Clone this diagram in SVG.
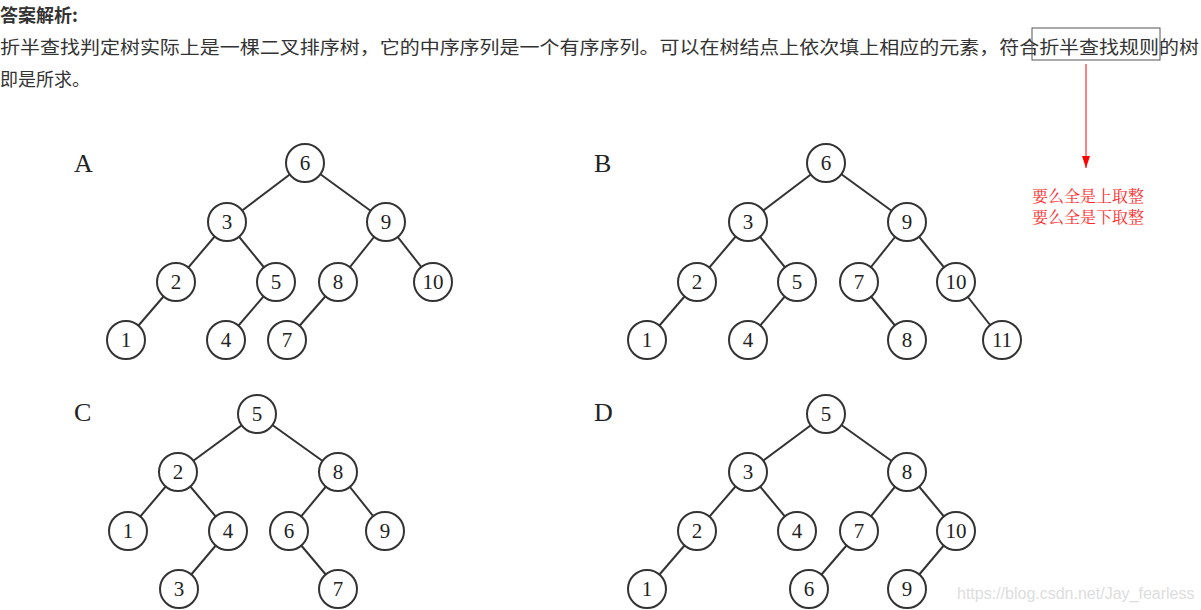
<svg xmlns="http://www.w3.org/2000/svg" width="1201" height="610" viewBox="0 0 1201 610">
<style>
.t{font-family:"Noto Sans CJK SC",sans-serif;fill:#333;font-size:18px}
.n circle{fill:#fff;stroke:#333;stroke-width:2}
.n text{font-family:"Liberation Serif",serif;font-size:21px;fill:#222;text-anchor:middle}
.lb{font-family:"Liberation Serif",serif;font-size:26px;fill:#222}
.e line{stroke:#333;stroke-width:2}
.r{font-family:"Noto Serif CJK SC","Noto Sans CJK SC",serif;font-size:16px;fill:#ff2a2a}
</style>
<defs><marker id="ad" markerWidth="8" markerHeight="12" refX="4" refY="12" markerUnits="userSpaceOnUse"><path d="M0,0 L8,0 L4,12 z" fill="#f00"/></marker></defs>
<rect width="1201" height="610" fill="#fff"/>
<text class="t" x="0" y="22" font-weight="bold">答案解析:</text>
<text class="t" x="0" y="54" textLength="1199" lengthAdjust="spacingAndGlyphs">折半查找判定树实际上是一棵二叉排序树，它的中序序列是一个有序序列。可以在树结点上依次填上相应的元素，符合折半查找规则的树</text>
<text class="t" x="0" y="86">即是所求。</text>
<rect x="1032" y="28" width="128" height="32" fill="none" stroke="#555" stroke-width="1"/>
<line x1="1086" y1="64" x2="1086" y2="168" stroke="#f00" stroke-width="1" marker-end="url(#ad)"/>
<text class="r" x="1032" y="202">要么全是上取整</text>
<text class="r" x="1032" y="223">要么全是下取整</text>
<text class="lb" x="74" y="172">A</text><text class="lb" x="594" y="172">B</text>
<text class="lb" x="74" y="421">C</text><text class="lb" x="594" y="421">D</text>
<g id="edges" class="e">
<line x1="305" y1="163" x2="227" y2="222"/><line x1="305" y1="163" x2="386" y2="222"/>
<line x1="227" y1="222" x2="176" y2="282"/><line x1="227" y1="222" x2="276" y2="282"/>
<line x1="386" y1="222" x2="338" y2="282"/><line x1="386" y1="222" x2="433" y2="282"/>
<line x1="176" y1="282" x2="126" y2="340"/><line x1="276" y1="282" x2="226" y2="340"/><line x1="338" y1="282" x2="287" y2="340"/>
<line x1="826" y1="163" x2="748" y2="222"/><line x1="826" y1="163" x2="907" y2="222"/>
<line x1="748" y1="222" x2="697" y2="282"/><line x1="748" y1="222" x2="797" y2="282"/>
<line x1="907" y1="222" x2="859" y2="282"/><line x1="907" y1="222" x2="956" y2="282"/>
<line x1="697" y1="282" x2="647" y2="340"/><line x1="797" y1="282" x2="748" y2="340"/>
<line x1="859" y1="282" x2="907" y2="340"/><line x1="956" y1="282" x2="1002" y2="340"/>
<line x1="257" y1="414" x2="178" y2="472"/><line x1="257" y1="414" x2="338" y2="472"/>
<line x1="178" y1="472" x2="128" y2="531"/><line x1="178" y1="472" x2="228" y2="531"/>
<line x1="338" y1="472" x2="289" y2="531"/><line x1="338" y1="472" x2="385" y2="531"/>
<line x1="228" y1="531" x2="179" y2="589"/><line x1="289" y1="531" x2="338" y2="589"/>
<line x1="826" y1="414" x2="748" y2="472"/><line x1="826" y1="414" x2="907" y2="472"/>
<line x1="748" y1="472" x2="697" y2="531"/><line x1="748" y1="472" x2="797" y2="531"/>
<line x1="907" y1="472" x2="859" y2="531"/><line x1="907" y1="472" x2="956" y2="531"/>
<line x1="697" y1="531" x2="647" y2="589"/><line x1="859" y1="531" x2="809" y2="589"/><line x1="956" y1="531" x2="907" y2="589"/>
</g>
<g class="n">
<g id="a6"><circle cx="305" cy="163" r="19"/><text x="305" y="170">6</text></g>
<g id="a3"><circle cx="227" cy="222" r="19"/><text x="227" y="229">3</text></g>
<g id="a9"><circle cx="386" cy="222" r="19"/><text x="386" y="229">9</text></g>
<g id="a2"><circle cx="176" cy="282" r="19"/><text x="176" y="289">2</text></g>
<g id="a5"><circle cx="276" cy="282" r="19"/><text x="276" y="289">5</text></g>
<g id="a8"><circle cx="338" cy="282" r="19"/><text x="338" y="289">8</text></g>
<g id="a10"><circle cx="433" cy="282" r="19"/><text x="433" y="289">10</text></g>
<g id="a1"><circle cx="126" cy="340" r="19"/><text x="126" y="347">1</text></g>
<g id="a4"><circle cx="226" cy="340" r="19"/><text x="226" y="347">4</text></g>
<g id="a7"><circle cx="287" cy="340" r="19"/><text x="287" y="347">7</text></g>
<g id="b6"><circle cx="826" cy="163" r="19"/><text x="826" y="170">6</text></g>
<g id="b3"><circle cx="748" cy="222" r="19"/><text x="748" y="229">3</text></g>
<g id="b9"><circle cx="907" cy="222" r="19"/><text x="907" y="229">9</text></g>
<g id="b2"><circle cx="697" cy="282" r="19"/><text x="697" y="289">2</text></g>
<g id="b5"><circle cx="797" cy="282" r="19"/><text x="797" y="289">5</text></g>
<g id="b7"><circle cx="859" cy="282" r="19"/><text x="859" y="289">7</text></g>
<g id="b10"><circle cx="956" cy="282" r="19"/><text x="956" y="289">10</text></g>
<g id="b1"><circle cx="647" cy="340" r="19"/><text x="647" y="347">1</text></g>
<g id="b4"><circle cx="748" cy="340" r="19"/><text x="748" y="347">4</text></g>
<g id="b8"><circle cx="907" cy="340" r="19"/><text x="907" y="347">8</text></g>
<g id="b11"><circle cx="1002" cy="340" r="19"/><text x="1002" y="347">11</text></g>
<g id="c5"><circle cx="257" cy="414" r="19"/><text x="257" y="421">5</text></g>
<g id="c2"><circle cx="178" cy="472" r="19"/><text x="178" y="479">2</text></g>
<g id="c8"><circle cx="338" cy="472" r="19"/><text x="338" y="479">8</text></g>
<g id="c1"><circle cx="128" cy="531" r="19"/><text x="128" y="538">1</text></g>
<g id="c4"><circle cx="228" cy="531" r="19"/><text x="228" y="538">4</text></g>
<g id="c6"><circle cx="289" cy="531" r="19"/><text x="289" y="538">6</text></g>
<g id="c9"><circle cx="385" cy="531" r="19"/><text x="385" y="538">9</text></g>
<g id="c3"><circle cx="179" cy="589" r="19"/><text x="179" y="596">3</text></g>
<g id="c7"><circle cx="338" cy="589" r="19"/><text x="338" y="596">7</text></g>
<g id="d5"><circle cx="826" cy="414" r="19"/><text x="826" y="421">5</text></g>
<g id="d3"><circle cx="748" cy="472" r="19"/><text x="748" y="479">3</text></g>
<g id="d8"><circle cx="907" cy="472" r="19"/><text x="907" y="479">8</text></g>
<g id="d2"><circle cx="697" cy="531" r="19"/><text x="697" y="538">2</text></g>
<g id="d4"><circle cx="797" cy="531" r="19"/><text x="797" y="538">4</text></g>
<g id="d7"><circle cx="859" cy="531" r="19"/><text x="859" y="538">7</text></g>
<g id="d10"><circle cx="956" cy="531" r="19"/><text x="956" y="538">10</text></g>
<g id="d1"><circle cx="647" cy="589" r="19"/><text x="647" y="596">1</text></g>
<g id="d6"><circle cx="809" cy="589" r="19"/><text x="809" y="596">6</text></g>
<g id="d9"><circle cx="907" cy="589" r="19"/><text x="907" y="596">9</text></g>
</g>
<text x="957" y="599" font-family="Liberation Sans,sans-serif" font-size="16" fill="#ddd">https://blog.csdn.net/Jay_fearless</text>
</svg>
